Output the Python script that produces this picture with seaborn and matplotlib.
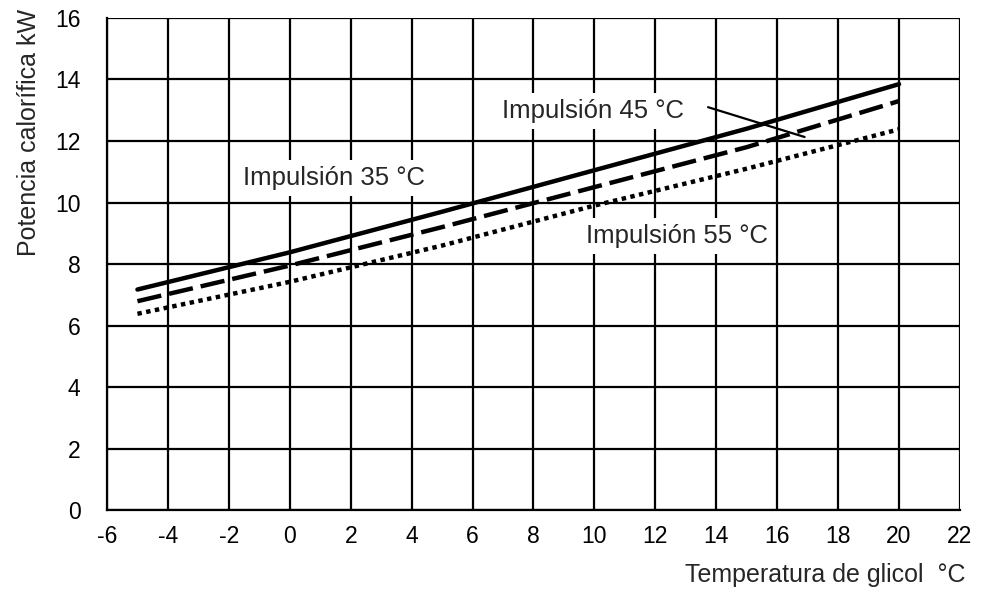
import matplotlib
matplotlib.use("Agg")
import matplotlib.pyplot as plt
import seaborn as sns
import pandas as pd

# Data
temp_glicol = [-5, 0, 5, 10, 15, 20]
imp_35 = [7.17, 8.38, 9.7, 11.05, 12.4, 13.85]
imp_45 = [6.79, 7.95, 9.2, 10.5, 11.8, 13.3]
imp_55 = [6.38, 7.42, 8.6, 9.9, 11.1, 12.38]

x_ticks = list(range(-6, 23, 2))
y_ticks = list(range(0, 17, 2))

sns.set_style("white")
plt.rcParams["font.family"] = ["Liberation Sans", "DejaVu Sans"]
plt.rcParams["axes.unicode_minus"] = False

df = pd.DataFrame({"t": temp_glicol, "35": imp_35, "45": imp_45, "55": imp_55})

fig = plt.figure(figsize=(9.85, 5.94), dpi=100)
ax = fig.add_axes([0.1086, 0.1414, 0.866, 0.8283])

sns.lineplot(data=df, x="t", y="35", ax=ax, color="black", linewidth=3.2,
             linestyle="-", zorder=3)
sns.lineplot(data=df, x="t", y="45", ax=ax, color="black", linewidth=3.2,
             linestyle=(0, (5.5, 1.8)), zorder=3)
sns.lineplot(data=df, x="t", y="55", ax=ax, color="black", linewidth=3.2,
             linestyle=(0, (1, 1)), zorder=3)

ax.set_xlim(-6, 22)
ax.set_ylim(0, 16)
ax.set_xticks(x_ticks)
ax.set_yticks(y_ticks)
ax.grid(True, color="black", linewidth=1.6)
for side in ["top", "right"]:
    ax.spines[side].set_visible(False)
for side in ["left", "bottom"]:
    ax.spines[side].set_color("black")
    ax.spines[side].set_linewidth(1.6)
ax.tick_params(direction="inout", length=8, width=1.6, labelsize=16.5,
               colors="black")
ax.tick_params(axis="x", pad=7)
ax.tick_params(axis="y", pad=15)

ax.set_xlabel("")
ax.set_ylabel("")
fig.text(0.98, 0.012, "Temperatura de glicol  °C", ha="right", va="bottom", fontsize=18)
fig.text(0.017, 0.985, "Potencia calorífica kW", rotation=90, ha="left", va="top", fontsize=18)

# curve labels
box = dict(facecolor="white", edgecolor="none", pad=4)
ax.text(-1.55, 10.57, "Impulsión 35 °C", fontsize=18.5, va="baseline", ha="left",
        bbox=box, zorder=4)
ax.text(6.98, 12.75, "Impulsión 45 °C", fontsize=18.5, va="baseline", ha="left",
        bbox=box, zorder=4)
ax.text(9.74, 8.68, "Impulsión 55 °C", fontsize=18.5, va="baseline", ha="left",
        bbox=box, zorder=4)
ax.annotate("", xy=(16.9, 12.13), xytext=(13.73, 13.1),
            arrowprops=dict(arrowstyle="-", color="black", linewidth=1.6,
                            shrinkA=0, shrinkB=0), zorder=4)

fig.savefig("out.png", dpi=100)
